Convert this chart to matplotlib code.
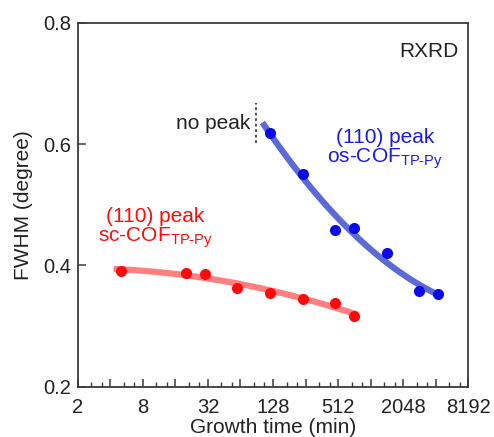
import numpy as np
import matplotlib
matplotlib.use("Agg")
import matplotlib.pyplot as plt
from matplotlib.ticker import FixedLocator, FuncFormatter, NullFormatter

plt.rcParams['font.family'] = ['Liberation Sans', 'DejaVu Sans']
plt.rcParams['mathtext.fontset'] = 'custom'
plt.rcParams['mathtext.rm'] = 'Liberation Sans'
plt.rcParams['mathtext.it'] = 'Liberation Sans'
plt.rcParams['mathtext.sf'] = 'Liberation Sans'

# ---- data (growth time in min, FWHM in degree) ----
sc_time = [5, 20, 30, 60, 120, 240, 480, 720]
sc_fwhm = [0.391, 0.388, 0.386, 0.363, 0.354, 0.345, 0.338, 0.317]
os_time = [120, 240, 480, 720, 1440, 2880, 4320]
os_fwhm = [0.619, 0.550, 0.458, 0.462, 0.421, 0.357, 0.353]
sc_fit_range = [4.3, 770]
os_fit_range = [102, 4500]
no_peak_time = 90
no_peak_span = [0.601, 0.668]
xtick_exps = list(range(1, 14))
yticks = [0.2, 0.4, 0.6, 0.8]

red_pt = '#FF0A0A'
red_ln = '#FF8080'
blue_pt = '#0A0AE8'
blue_txt = '#1A1AE0'
blue_ln = '#5B6AD6'

fig = plt.figure(figsize=(4.94, 4.37), dpi=100)
ax = fig.add_axes([0.1573, 0.1151, 0.7908, 0.8329])

def fit_curve(t, y, rng):
    lt = np.log2(t)
    c = np.polyfit(lt, y, 2)
    xs = np.linspace(np.log2(rng[0]), np.log2(rng[1]), 200)
    return 2 ** xs, np.polyval(c, xs)

fx, fy = fit_curve(sc_time, sc_fwhm, sc_fit_range)
ax.plot(fx, fy, color=red_ln, lw=4.5, solid_capstyle='butt', zorder=2)
fx, fy = fit_curve(os_time, os_fwhm, os_fit_range)
ax.plot(fx, fy, color=blue_ln, lw=4.5, solid_capstyle='butt', zorder=2)

ax.plot(sc_time, sc_fwhm, 'o', color=red_pt, ms=8, mew=0, zorder=3)
ax.plot(os_time, os_fwhm, 'o', color=blue_pt, ms=8, mew=0, zorder=3)

ax.plot([no_peak_time, no_peak_time], no_peak_span, color='#222222', lw=1.1,
        ls=(0, (1.8, 1.8)), zorder=2)

ax.set_xscale('log', base=2)
ax.set_xlim(2, 8192)
ax.set_ylim(0.2, 0.8)

majors = [2.0 ** e for e in xtick_exps]
ax.xaxis.set_major_locator(FixedLocator(majors))
ax.xaxis.set_major_formatter(FuncFormatter(
    lambda v, p: f"{int(round(v))}" if int(round(np.log2(v))) % 2 == 1 else ""))
minors = []
for e in xtick_exps[:-1]:
    b = 2.0 ** e
    minors += [b * 4 / 3, b * 5 / 3]
ax.xaxis.set_minor_locator(FixedLocator(minors))
ax.xaxis.set_minor_formatter(NullFormatter())
ax.set_yticks(yticks)
ax.set_yticklabels([f"{v:.1f}" for v in yticks])

spine_c = '#3a3a3a'
for s in ax.spines.values():
    s.set_color(spine_c)
    s.set_linewidth(1.3)
ax.tick_params(axis='both', which='major', direction='in', length=6, width=1.1,
               color=spine_c, labelsize=14.5, labelcolor='#222222')
ax.tick_params(axis='x', which='major', pad=8)
ax.tick_params(axis='y', which='major', pad=5)
ax.tick_params(axis='x', which='minor', direction='in', length=3.5, width=1.0,
               color=spine_c)

ax.set_xlabel('Growth time (min)', fontsize=15, color='#222222', labelpad=0.5)
ax.set_ylabel('FWHM (degree)', fontsize=15, color='#222222', labelpad=7)

ax.text(0.976, 0.92, 'RXRD', transform=ax.transAxes, ha='right', va='center',
        fontsize=15, color='#222222')
ax.text(0.441, 0.724, 'no peak', transform=ax.transAxes, ha='right', va='center',
        fontsize=15, color='#222222')
ax.text(0.787, 0.686, '(110) peak', transform=ax.transAxes, ha='center', va='center',
        fontsize=15, color=blue_txt)
ax.text(0.787, 0.625, r'os-COF$_{\mathrm{TP\text{-}Py}}$', transform=ax.transAxes,
        ha='center', va='center', fontsize=15, color=blue_txt)
ax.text(0.199, 0.467, '(110) peak', transform=ax.transAxes, ha='center', va='center',
        fontsize=15, color=red_pt)
ax.text(0.199, 0.409, r'sc-COF$_{\mathrm{TP\text{-}Py}}$', transform=ax.transAxes,
        ha='center', va='center', fontsize=15, color=red_pt)

fig.savefig('out.png', dpi=100)
